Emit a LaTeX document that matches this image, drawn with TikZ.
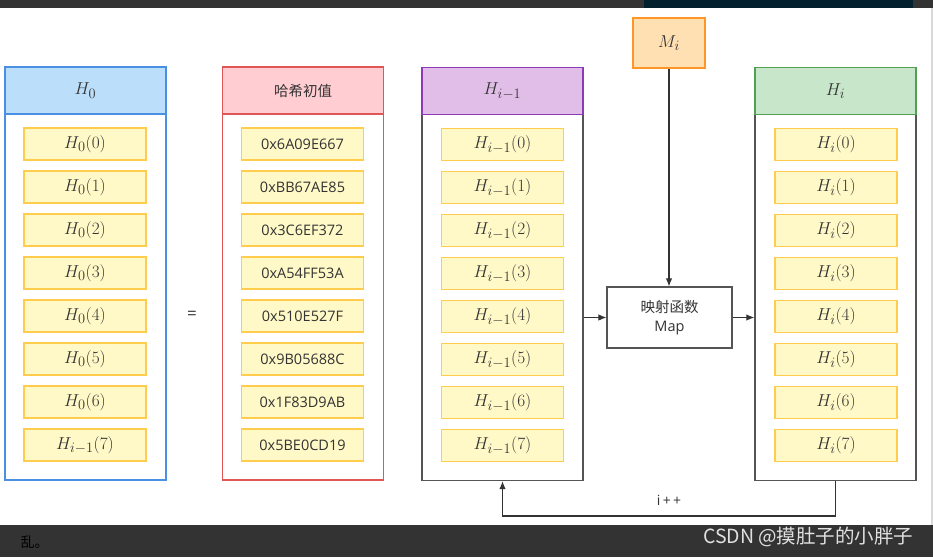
\documentclass[tikz,border=0pt]{standalone}
\usepackage{fontspec}
\setmainfont{Open Sans}
\newfontfamily\cjk{Noto Sans CJK SC}
\usetikzlibrary{arrows.meta}
\definecolor{txt}{HTML}{333333}
\definecolor{itemfill}{RGB}{255,248,199}
\definecolor{itemdraw}{RGB}{255,204,77}
\definecolor{bluedraw}{RGB}{74,144,226}
\definecolor{bluefill}{RGB}{187,222,251}
\definecolor{reddraw}{RGB}{224,85,85}
\definecolor{redfill}{RGB}{255,205,210}
\definecolor{purpdraw}{RGB}{142,58,180}
\definecolor{purpfill}{RGB}{225,190,231}
\definecolor{greendraw}{RGB}{82,160,82}
\definecolor{greenfill}{RGB}{200,230,201}
\definecolor{orangedraw}{RGB}{255,150,40}
\definecolor{orangefill}{RGB}{255,224,178}
\definecolor{bodydraw}{RGB}{85,85,85}
\definecolor{barcol}{HTML}{333333}
\definecolor{navycol}{HTML}{03202E}
\newcommand\msz{\fontsize{19}{22}\selectfont}
\newcommand\tsz{\fontsize{14.5}{17.5}\selectfont}
\tikzset{
  item/.style={draw=itemdraw,fill=itemfill,line width=1.2pt,minimum width=122pt,minimum height=32pt,inner sep=0pt,text=txt},
  header/.style={line width=1.3pt,minimum width=161pt,minimum height=47pt,inner sep=0pt,text=txt},
  body/.style={line width=1.3pt,minimum width=161pt,minimum height=366pt,inner sep=0pt},
  conn/.style={draw=txt,line width=1.1pt,-{Latex[length=8pt,width=6.5pt]}},
}
\begin{document}
\begin{tikzpicture}[x=1pt,y=-1pt]
\useasboundingbox (0,0) rectangle (933,557);
% screenshot bars
\fill[barcol] (0,0) rectangle (933,8);
\fill[navycol] (644,0) rectangle (913,8);
\fill[barcol] (0,525) rectangle (933,557);
\fill[black!15] (931,8) rectangle (933,525);
\node[text=black,anchor=west,font=\cjk\fontsize{14}{16}\selectfont] (tail) at (17,542) {乱。};
\node[text=white!88!black,anchor=east,font=\cjk\fontsize{19.5}{22}\selectfont] (wm) at (917,537) {CSDN @摸肚子的小胖子};

% column 1
\node[body,draw=bluedraw] (b1) at (85.5,297) {};
\node[header,draw=bluedraw,fill=bluefill] (h1) at (85.5,90.5) {\msz$H_0$};
\foreach \k in {0,...,6} {
  \node[item] (a\k) at (85,144+43*\k) {\msz$H_0(\k)$};
}
\node[item] (a7) at (85,445) {\msz$H_{i-1}(7)$};

% equals
\node[text=txt,font=\fontsize{17}{20}\selectfont] (eq) at (192,315) {=};

% column 2
\node[body,draw=reddraw] (b2) at (303,297) {};
\node[header,draw=reddraw,fill=redfill,font=\cjk\tsz] (h2) at (303,90.5) {哈希初值};
\foreach \k/\v in {0/0x6A09E667,1/0xBB67AE85,2/0x3C6EF372,3/0xA54FF53A,4/0x510E527F,5/0x9B05688C,6/0x1F83D9AB,7/0x5BE0CD19} {
  \node[item,font=\fontsize{14.5}{17}\selectfont] (c\k) at (302.5,144+43*\k) {\v};
}

% column 3
\node[body,draw=bodydraw] (b3) at (502.5,297.5) {};
\node[header,draw=purpdraw,fill=purpfill] (h3) at (502.5,91) {\msz$H_{i-1}$};
\foreach \k in {0,...,7} {
  \node[item] (d\k) at (502.5,144.5+43*\k) {\msz$H_{i-1}(\k)$};
}

% column 4
\node[body,draw=bodydraw] (b4) at (835.5,297.5) {};
\node[header,draw=greendraw,fill=greenfill] (h4) at (835.5,91) {\msz$H_i$};
\foreach \k in {0,...,7} {
  \node[item] (e\k) at (836,144.5+43*\k) {\msz$H_i(\k)$};
}

% M_i and Map
\node[draw=orangedraw,fill=orangefill,line width=1.3pt,minimum width=72pt,minimum height=50pt,inner sep=0pt,text=txt] (mi) at (669,43) {\msz$M_i$};
\node[draw=bodydraw,fill=white,line width=1.2pt,minimum width=125pt,minimum height=61pt,inner sep=0pt,text=txt,align=center,font=\tsz] (map) at (669.5,317.5) {{\cjk 映射函数}\\[1pt]Map};

% connectors
\draw[conn] (mi.south) -- (mi.south |- map.north);
\draw[conn] (b3.east |- map.west) -- (map.west);
\draw[conn] (map.east) -- (map.east -| b4.west);
\coordinate (fb) at (836,516);
\draw[conn] (b4.south) -- (b4.south |- fb) -| (b3.south);
\node[text=txt,font=\fontsize{14}{16}\selectfont] (ipp) at (669,500) {i\,+\,+};
\end{tikzpicture}
\end{document}
